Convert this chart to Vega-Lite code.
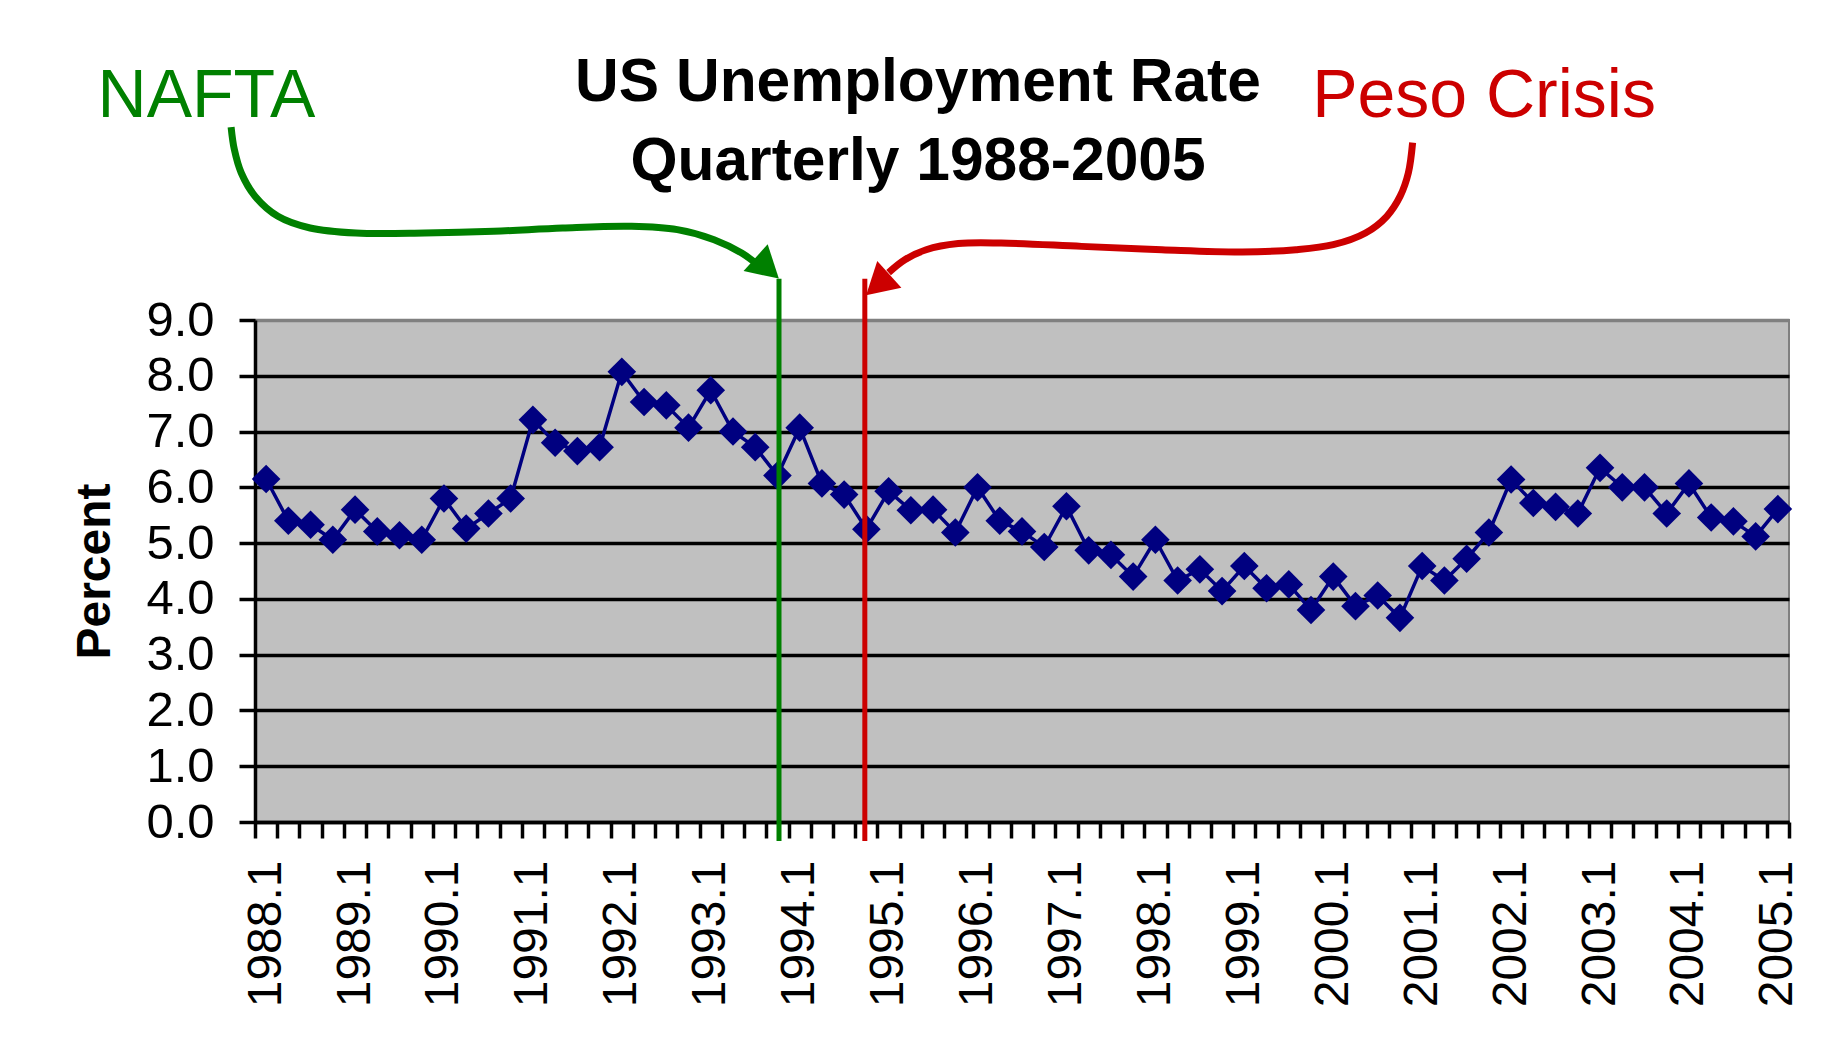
{
  "$schema": "https://vega.github.io/schema/vega-lite/v6.json",
  "width": 1534,
  "height": 502,
  "autosize": {"type": "none"},
  "padding": {"left": 255, "top": 320, "right": 36, "bottom": 227},
  "background": "white",
  "config": {
    "font": "Liberation Sans",
    "view": {"fill": "#C0C0C0", "stroke": "#808080", "strokeWidth": 2}
  },
  "title": {
    "text": ["US Unemployment Rate", "Quarterly 1988-2005"],
    "font": "Liberation Sans",
    "fontSize": 60.5,
    "fontWeight": "bold",
    "color": "black",
    "anchor": "middle",
    "frame": "group",
    "dx": -104,
    "baseline": "bottom",
    "lineHeight": 79,
    "offset": -191
  },
  "datasets": {
    "rates": [
      {"quarter": "1988.1", "period": 1, "rate": 6.15},
      {"quarter": "1988.2", "period": 2, "rate": 5.4},
      {"quarter": "1988.3", "period": 3, "rate": 5.33},
      {"quarter": "1988.4", "period": 4, "rate": 5.06},
      {"quarter": "1989.1", "period": 5, "rate": 5.6},
      {"quarter": "1989.2", "period": 6, "rate": 5.21},
      {"quarter": "1989.3", "period": 7, "rate": 5.14},
      {"quarter": "1989.4", "period": 8, "rate": 5.06},
      {"quarter": "1990.1", "period": 9, "rate": 5.8},
      {"quarter": "1990.2", "period": 10, "rate": 5.26},
      {"quarter": "1990.3", "period": 11, "rate": 5.53},
      {"quarter": "1990.4", "period": 12, "rate": 5.8},
      {"quarter": "1991.1", "period": 13, "rate": 7.21},
      {"quarter": "1991.2", "period": 14, "rate": 6.8},
      {"quarter": "1991.3", "period": 15, "rate": 6.65},
      {"quarter": "1991.4", "period": 16, "rate": 6.72},
      {"quarter": "1992.1", "period": 17, "rate": 8.07},
      {"quarter": "1992.2", "period": 18, "rate": 7.53},
      {"quarter": "1992.3", "period": 19, "rate": 7.47},
      {"quarter": "1992.4", "period": 20, "rate": 7.07},
      {"quarter": "1993.1", "period": 21, "rate": 7.74},
      {"quarter": "1993.2", "period": 22, "rate": 7.0},
      {"quarter": "1993.3", "period": 23, "rate": 6.72},
      {"quarter": "1993.4", "period": 24, "rate": 6.21},
      {"quarter": "1994.1", "period": 25, "rate": 7.07},
      {"quarter": "1994.2", "period": 26, "rate": 6.07},
      {"quarter": "1994.3", "period": 27, "rate": 5.87},
      {"quarter": "1994.4", "period": 28, "rate": 5.25},
      {"quarter": "1995.1", "period": 29, "rate": 5.93},
      {"quarter": "1995.2", "period": 30, "rate": 5.59},
      {"quarter": "1995.3", "period": 31, "rate": 5.6},
      {"quarter": "1995.4", "period": 32, "rate": 5.19},
      {"quarter": "1996.1", "period": 33, "rate": 6.0},
      {"quarter": "1996.2", "period": 34, "rate": 5.4},
      {"quarter": "1996.3", "period": 35, "rate": 5.21},
      {"quarter": "1996.4", "period": 36, "rate": 4.93},
      {"quarter": "1997.1", "period": 37, "rate": 5.66},
      {"quarter": "1997.2", "period": 38, "rate": 4.87},
      {"quarter": "1997.3", "period": 39, "rate": 4.79},
      {"quarter": "1997.4", "period": 40, "rate": 4.4},
      {"quarter": "1998.1", "period": 41, "rate": 5.06},
      {"quarter": "1998.2", "period": 42, "rate": 4.33},
      {"quarter": "1998.3", "period": 43, "rate": 4.53},
      {"quarter": "1998.4", "period": 44, "rate": 4.14},
      {"quarter": "1999.1", "period": 45, "rate": 4.59},
      {"quarter": "1999.2", "period": 46, "rate": 4.19},
      {"quarter": "1999.3", "period": 47, "rate": 4.26},
      {"quarter": "1999.4", "period": 48, "rate": 3.8},
      {"quarter": "2000.1", "period": 49, "rate": 4.4},
      {"quarter": "2000.2", "period": 50, "rate": 3.87},
      {"quarter": "2000.3", "period": 51, "rate": 4.06},
      {"quarter": "2000.4", "period": 52, "rate": 3.66},
      {"quarter": "2001.1", "period": 53, "rate": 4.59},
      {"quarter": "2001.2", "period": 54, "rate": 4.33},
      {"quarter": "2001.3", "period": 55, "rate": 4.72},
      {"quarter": "2001.4", "period": 56, "rate": 5.19},
      {"quarter": "2002.1", "period": 57, "rate": 6.14},
      {"quarter": "2002.2", "period": 58, "rate": 5.72},
      {"quarter": "2002.3", "period": 59, "rate": 5.65},
      {"quarter": "2002.4", "period": 60, "rate": 5.53},
      {"quarter": "2003.1", "period": 61, "rate": 6.35},
      {"quarter": "2003.2", "period": 62, "rate": 6.0},
      {"quarter": "2003.3", "period": 63, "rate": 6.0},
      {"quarter": "2003.4", "period": 64, "rate": 5.53},
      {"quarter": "2004.1", "period": 65, "rate": 6.07},
      {"quarter": "2004.2", "period": 66, "rate": 5.46},
      {"quarter": "2004.3", "period": 67, "rate": 5.39},
      {"quarter": "2004.4", "period": 68, "rate": 5.12},
      {"quarter": "2005.1", "period": 69, "rate": 5.61}
    ],
    "events": [
      {"event": "NAFTA", "period": 24.07},
      {"event": "Peso Crisis", "period": 27.93}
    ],
    "labels": [
      {"event": "NAFTA", "period": -6.58, "pct": 12.64},
      {"event": "Peso Crisis", "period": 48.05, "pct": 12.64}
    ],
    "arrowheads": [
      {"event": "NAFTA", "period": 23.54, "pct": 9.93},
      {"event": "Peso Crisis", "period": 28.51, "pct": 9.63}
    ],
    "arrows": [
      {"event": "NAFTA", "step": 1, "period": -0.575, "pct": 12.46},
      {"event": "NAFTA", "step": 2, "period": -0.431, "pct": 12.06},
      {"event": "NAFTA", "step": 3, "period": -0.121, "pct": 11.64},
      {"event": "NAFTA", "step": 4, "period": 0.5, "pct": 11.22},
      {"event": "NAFTA", "step": 5, "period": 1.53, "pct": 10.86},
      {"event": "NAFTA", "step": 6, "period": 2.98, "pct": 10.65},
      {"event": "NAFTA", "step": 7, "period": 5.04, "pct": 10.56},
      {"event": "NAFTA", "step": 8, "period": 8.14, "pct": 10.56},
      {"event": "NAFTA", "step": 9, "period": 11.24, "pct": 10.59},
      {"event": "NAFTA", "step": 10, "period": 14.34, "pct": 10.65},
      {"event": "NAFTA", "step": 11, "period": 17.44, "pct": 10.68},
      {"event": "NAFTA", "step": 12, "period": 19.5, "pct": 10.62},
      {"event": "NAFTA", "step": 13, "period": 21.15, "pct": 10.44},
      {"event": "NAFTA", "step": 14, "period": 22.39, "pct": 10.2},
      {"event": "NAFTA", "step": 15, "period": 23.21, "pct": 9.96},
      {"event": "Peso Crisis", "step": 1, "period": 52.57, "pct": 12.18},
      {"event": "Peso Crisis", "step": 2, "period": 52.38, "pct": 11.64},
      {"event": "Peso Crisis", "step": 3, "period": 52.01, "pct": 11.22},
      {"event": "Peso Crisis", "step": 4, "period": 51.41, "pct": 10.86},
      {"event": "Peso Crisis", "step": 5, "period": 50.45, "pct": 10.56},
      {"event": "Peso Crisis", "step": 6, "period": 49.0, "pct": 10.35},
      {"event": "Peso Crisis", "step": 7, "period": 47.32, "pct": 10.26},
      {"event": "Peso Crisis", "step": 8, "period": 44.9, "pct": 10.22},
      {"event": "Peso Crisis", "step": 9, "period": 41.29, "pct": 10.26},
      {"event": "Peso Crisis", "step": 10, "period": 37.68, "pct": 10.32},
      {"event": "Peso Crisis", "step": 11, "period": 34.06, "pct": 10.38},
      {"event": "Peso Crisis", "step": 12, "period": 32.13, "pct": 10.37},
      {"event": "Peso Crisis", "step": 13, "period": 30.69, "pct": 10.26},
      {"event": "Peso Crisis", "step": 14, "period": 29.73, "pct": 10.08},
      {"event": "Peso Crisis", "step": 15, "period": 29.0, "pct": 9.85}
    ]
  },
  "layer": [
    {
      "data": {"name": "rates"},
      "mark": {"type": "line", "color": "#000080", "strokeWidth": 3.5},
      "encoding": {
        "x": {
          "field": "period", "type": "quantitative",
          "scale": {"domain": [0.5, 69.5], "nice": false, "zero": false},
          "axis": {
            "orient": "bottom",
            "values": [0.5,1.5,2.5,3.5,4.5,5.5,6.5,7.5,8.5,9.5,10.5,11.5,12.5,13.5,14.5,15.5,16.5,17.5,18.5,19.5,20.5,21.5,22.5,23.5,24.5,25.5,26.5,27.5,28.5,29.5,30.5,31.5,32.5,33.5,34.5,35.5,36.5,37.5,38.5,39.5,40.5,41.5,42.5,43.5,44.5,45.5,46.5,47.5,48.5,49.5,50.5,51.5,52.5,53.5,54.5,55.5,56.5,57.5,58.5,59.5,60.5,61.5,62.5,63.5,64.5,65.5,66.5,67.5,68.5,69.5],
            "labels": false, "ticks": true, "tickSize": 16, "tickWidth": 3.5, "tickColor": "black",
            "domain": true, "domainColor": "black", "domainWidth": 3.5, "grid": false, "title": null
          }
        },
        "y": {
          "field": "rate", "type": "quantitative",
          "scale": {"domain": [0, 9], "nice": false},
          "axis": {
            "orient": "left",
            "values": [0,1,2,3,4,5,6,7,8,9], "format": ".1f",
            "labelFontSize": 49, "labelColor": "black", "labelPadding": 25, "labelFont": "Liberation Sans",
            "tickSize": 16, "tickWidth": 3.5, "tickColor": "black",
            "domainColor": "black", "domainWidth": 3.5,
            "grid": true, "gridWidth": 3.5,
            "gridColor": {"condition": {"test": "datum.value === 9", "value": "#808080"}, "value": "black"},
            "title": "Percent", "titleFontSize": 48, "titleFontWeight": "bold", "titleColor": "black",
            "titleFont": "Liberation Sans", "titlePadding": 26
          }
        }
      }
    },
    {
      "data": {"name": "rates"},
      "mark": {"type": "point", "shape": "diamond", "filled": true, "color": "#000080", "size": 820, "opacity": 1},
      "encoding": {
        "x": {
          "field": "period", "type": "quantitative",
          "scale": {"domain": [0.5, 69.5], "nice": false, "zero": false},
          "axis": {
            "orient": "bottom",
            "values": [1,5,9,13,17,21,25,29,33,37,41,45,49,53,57,61,65,69],
            "labelExpr": "(1988 + (datum.value - 1) / 4) + '.1'",
            "labelAngle": -90, "labelFontSize": 48, "labelColor": "black", "labelFont": "Liberation Sans",
            "labelPadding": 38, "ticks": false, "domain": false, "grid": false, "title": null
          }
        },
        "y": {"field": "rate", "type": "quantitative", "scale": {"domain": [0, 9], "nice": false}, "axis": null},
        "tooltip": [{"field": "quarter"}, {"field": "rate"}]
      }
    },
    {
      "data": {"name": "events"},
      "mark": {"type": "rule", "strokeWidth": 5},
      "encoding": {
        "x": {"field": "period", "type": "quantitative", "scale": {"domain": [0.5, 69.5], "nice": false, "zero": false}, "axis": null},
        "y": {"datum": 9.74, "type": "quantitative", "scale": {"domain": [0, 9], "nice": false}, "axis": null},
        "y2": {"datum": -0.34},
        "color": {"field": "event", "type": "nominal", "scale": {"domain": ["NAFTA", "Peso Crisis"], "range": ["#008000", "#CC0000"]}, "legend": null}
      }
    },
    {
      "data": {"name": "arrows"},
      "mark": {"type": "line", "strokeWidth": 7, "interpolate": "catmull-rom"},
      "encoding": {
        "x": {"field": "period", "type": "quantitative", "scale": {"domain": [0.5, 69.5], "nice": false, "zero": false}, "axis": null},
        "y": {"field": "pct", "type": "quantitative", "scale": {"domain": [0, 9], "nice": false}, "axis": null},
        "order": {"field": "step", "type": "quantitative"},
        "color": {"field": "event", "type": "nominal", "scale": {"domain": ["NAFTA", "Peso Crisis"], "range": ["#008000", "#CC0000"]}, "legend": null}
      }
    },
    {
      "data": {"name": "arrowheads"},
      "transform": [{"filter": "datum.event === 'NAFTA'"}],
      "mark": {"type": "point", "shape": "triangle-up", "filled": true, "opacity": 1, "size": 1300, "angle": 132},
      "encoding": {
        "x": {"field": "period", "type": "quantitative", "scale": {"domain": [0.5, 69.5], "nice": false, "zero": false}, "axis": null},
        "y": {"field": "pct", "type": "quantitative", "scale": {"domain": [0, 9], "nice": false}, "axis": null},
        "color": {"field": "event", "type": "nominal", "scale": {"domain": ["NAFTA", "Peso Crisis"], "range": ["#008000", "#CC0000"]}, "legend": null}
      }
    },
    {
      "data": {"name": "arrowheads"},
      "transform": [{"filter": "datum.event === 'Peso Crisis'"}],
      "mark": {"type": "point", "shape": "triangle-up", "filled": true, "opacity": 1, "size": 1300, "angle": 228},
      "encoding": {
        "x": {"field": "period", "type": "quantitative", "scale": {"domain": [0.5, 69.5], "nice": false, "zero": false}, "axis": null},
        "y": {"field": "pct", "type": "quantitative", "scale": {"domain": [0, 9], "nice": false}, "axis": null},
        "color": {"field": "event", "type": "nominal", "scale": {"domain": ["NAFTA", "Peso Crisis"], "range": ["#008000", "#CC0000"]}, "legend": null}
      }
    },
    {
      "data": {"name": "labels"},
      "mark": {"type": "text", "align": "left", "baseline": "alphabetic", "fontSize": 68, "font": "Liberation Sans"},
      "encoding": {
        "x": {"field": "period", "type": "quantitative", "scale": {"domain": [0.5, 69.5], "nice": false, "zero": false}, "axis": null},
        "y": {"field": "pct", "type": "quantitative", "scale": {"domain": [0, 9], "nice": false}, "axis": null},
        "text": {"field": "event"},
        "color": {"field": "event", "type": "nominal", "scale": {"domain": ["NAFTA", "Peso Crisis"], "range": ["#008000", "#CC0000"]}, "legend": null}
      }
    }
  ],
  "resolve": {"axis": {"x": "independent", "y": "independent"}}
}
